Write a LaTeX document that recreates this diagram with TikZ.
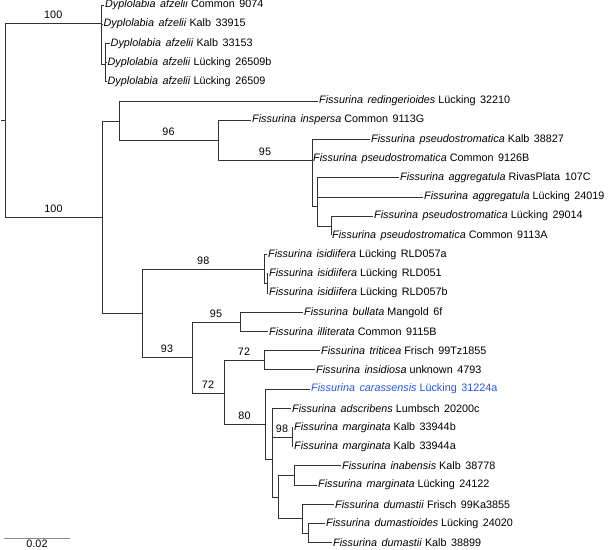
\documentclass[tikz,border=0pt]{standalone}
\usepackage{fontspec}
\setmainfont{Liberation Sans}
\usetikzlibrary{positioning}
\definecolor{treeline}{RGB}{50,50,50}
\definecolor{focusblue}{RGB}{35,85,235}
\newcommand{\taxon}[4]{\textit{#1}\hspace{0.42em}\textit{#2} #3\hspace{0.42em}#4}

\begin{document}
\begin{tikzpicture}[x=1pt,y=-1pt,font=\fontsize{10.8}{12}\selectfont,
  branch/.style={draw=treeline,line width=0.95pt},
  leaf/.style={anchor=west,inner sep=1pt},
  boot/.style={above=3pt,inner sep=1pt,pos=0.75},
  scalebar/.style={draw=black!45,line width=0.7pt}]
\useasboundingbox (0,0) rectangle (609,549);
% tips
\node[leaf] (a0) at (104,5) {\taxon{Dyplolabia}{afzelii}{Common}{9074}};
\node[leaf] (a1) at (102.5,24.2) {\taxon{Dyplolabia}{afzelii}{Kalb}{33915}};
\node[leaf] (a2) at (109.5,43.4) {\taxon{Dyplolabia}{afzelii}{Kalb}{33153}};
\node[leaf] (a3) at (106.5,62.6) {\taxon{Dyplolabia}{afzelii}{Lücking}{26509b}};
\node[leaf] (a4) at (106.5,81.8) {\taxon{Dyplolabia}{afzelii}{Lücking}{26509}};
\node[leaf] (f05) at (318,101) {\taxon{Fissurina}{redingerioides}{Lücking}{32210}};
\node[leaf] (f06) at (251,120.2) {\taxon{Fissurina}{inspersa}{Common}{9113G}};
\node[leaf] (f07) at (370,139.4) {\taxon{Fissurina}{pseudostromatica}{Kalb}{38827}};
\node[leaf] (f08) at (312,158.6) {\taxon{Fissurina}{pseudostromatica}{Common}{9126B}};
\node[leaf] (f09) at (399,177.8) {\taxon{Fissurina}{aggregatula}{RivasPlata}{107C}};
\node[leaf] (f10) at (423,197) {\taxon{Fissurina}{aggregatula}{Lücking}{24019}};
\node[leaf] (f11) at (373,216.2) {\taxon{Fissurina}{pseudostromatica}{Lücking}{29014}};
\node[leaf] (f12) at (331,235.4) {\taxon{Fissurina}{pseudostromatica}{Common}{9113A}};
\node[leaf] (f13) at (267,254.6) {\taxon{Fissurina}{isidiifera}{Lücking}{RLD057a}};
\node[leaf] (f14) at (268,273.8) {\taxon{Fissurina}{isidiifera}{Lücking}{RLD051}};
\node[leaf] (f15) at (268,293) {\taxon{Fissurina}{isidiifera}{Lücking}{RLD057b}};
\node[leaf] (f16) at (303,312.2) {\taxon{Fissurina}{bullata}{Mangold}{6f}};
\node[leaf] (f17) at (268,331.4) {\taxon{Fissurina}{illiterata}{Common}{9115B}};
\node[leaf] (f18) at (320,350.6) {\taxon{Fissurina}{triticea}{Frisch}{99Tz1855}};
\node[leaf] (f19) at (315,369.8) {\taxon{Fissurina}{insidiosa}{unknown}{4793}};
\node[leaf,text=focusblue] (f20) at (310,389) {\taxon{Fissurina}{carassensis}{Lücking}{31224a}};
\node[leaf] (f21) at (291,408.2) {\taxon{Fissurina}{adscribens}{Lumbsch}{20200c}};
\node[leaf] (f22) at (293,427.4) {\taxon{Fissurina}{marginata}{Kalb}{33944b}};
\node[leaf] (f23) at (293,446.6) {\taxon{Fissurina}{marginata}{Kalb}{33944a}};
\node[leaf] (f24) at (341,465.8) {\taxon{Fissurina}{inabensis}{Kalb}{38778}};
\node[leaf] (f25) at (317,485) {\taxon{Fissurina}{marginata}{Lücking}{24122}};
\node[leaf] (f26) at (334,504.2) {\taxon{Fissurina}{dumastii}{Frisch}{99Ka3855}};
\node[leaf] (f27) at (325,523.4) {\taxon{Fissurina}{dumastioides}{Lücking}{24020}};
\node[leaf] (f28) at (332,542.6) {\taxon{Fissurina}{dumastii}{Kalb}{38899}};
% internal nodes
\coordinate (stub) at (1,120);
\coordinate (root) at (5,120);
\coordinate (dy) at (101.5,23);
\coordinate (dys) at (105.5,64);
\coordinate (cr) at (102,217);
\coordinate (up) at (119,121);
\coordinate (n96) at (218,140.5);
\coordinate (n95) at (312,160.5);
\coordinate (ps1) at (317,206);
\coordinate (ps2) at (331,226);
\coordinate (lo) at (142,313);
\coordinate (isi) at (264.5,269);
\coordinate (isis) at (267,283.5);
\coordinate (n93) at (192,357);
\coordinate (n95b) at (240,322);
\coordinate (n72a) at (224,393);
\coordinate (n72b) at (264,360);
\coordinate (n80) at (265,424);
\coordinate (nx) at (272,459);
\coordinate (nmg) at (292,437);
\coordinate (ny) at (278,497);
\coordinate (nin) at (294,475.5);
\coordinate (ndu) at (302,518);
\coordinate (nds) at (308,533);
% branches between internal nodes
\draw[branch] (stub) -- (root);
\draw[branch] (root) |- node[boot] {100} (dy);
\draw[branch] (root) |- node[boot] {100} (cr);
\draw[branch] (dy) |- (dys);
\draw[branch] (cr) |- (up);
\draw[branch] (cr) |- (lo);
\draw[branch] (up) |- node[boot] {96} (n96);
\draw[branch] (n96) |- node[boot] {95} (n95);
\draw[branch] (n95) |- (ps1);
\draw[branch] (ps1) |- (ps2);
\draw[branch] (lo) |- node[boot] {98} (isi);
\draw[branch] (isi) |- (isis);
\draw[branch] (lo) |- node[boot] {93} (n93);
\draw[branch] (n93) |- node[boot] {95} (n95b);
\draw[branch] (n93) |- node[boot] {72} (n72a);
\draw[branch] (n72a) |- node[boot] {72} (n72b);
\draw[branch] (n72a) |- node[boot] {80} (n80);
\draw[branch] (n80) |- (nx);
\draw[branch] (nx) |- node[boot] {98} (nmg);
\draw[branch] (nx) |- (ny);
\draw[branch] (ny) |- (nin);
\draw[branch] (ny) |- (ndu);
\draw[branch] (ndu) |- (nds);
% branches to tips
\foreach \p/\c in {dy/a0,dy/a1,dys/a2,dys/a3,dys/a4,up/f05,n96/f06,n95/f07,n95/f08,
  ps1/f09,ps1/f10,ps2/f11,ps2/f12,isi/f13,isis/f14,isis/f15,n95b/f16,n95b/f17,
  n72b/f18,n72b/f19,n80/f20,nx/f21,nmg/f22,nmg/f23,nin/f24,nin/f25,ndu/f26,
  nds/f27,nds/f28}
  \draw[branch] (\p) |- (\c.west);
% scale
\coordinate (sb0) at (4,538);
\coordinate (sb1) at (70,538);
\draw[scalebar] (sb0) -- node[below=0.5pt,inner sep=1pt] {0.02} (sb1);
\end{tikzpicture}
\end{document}
